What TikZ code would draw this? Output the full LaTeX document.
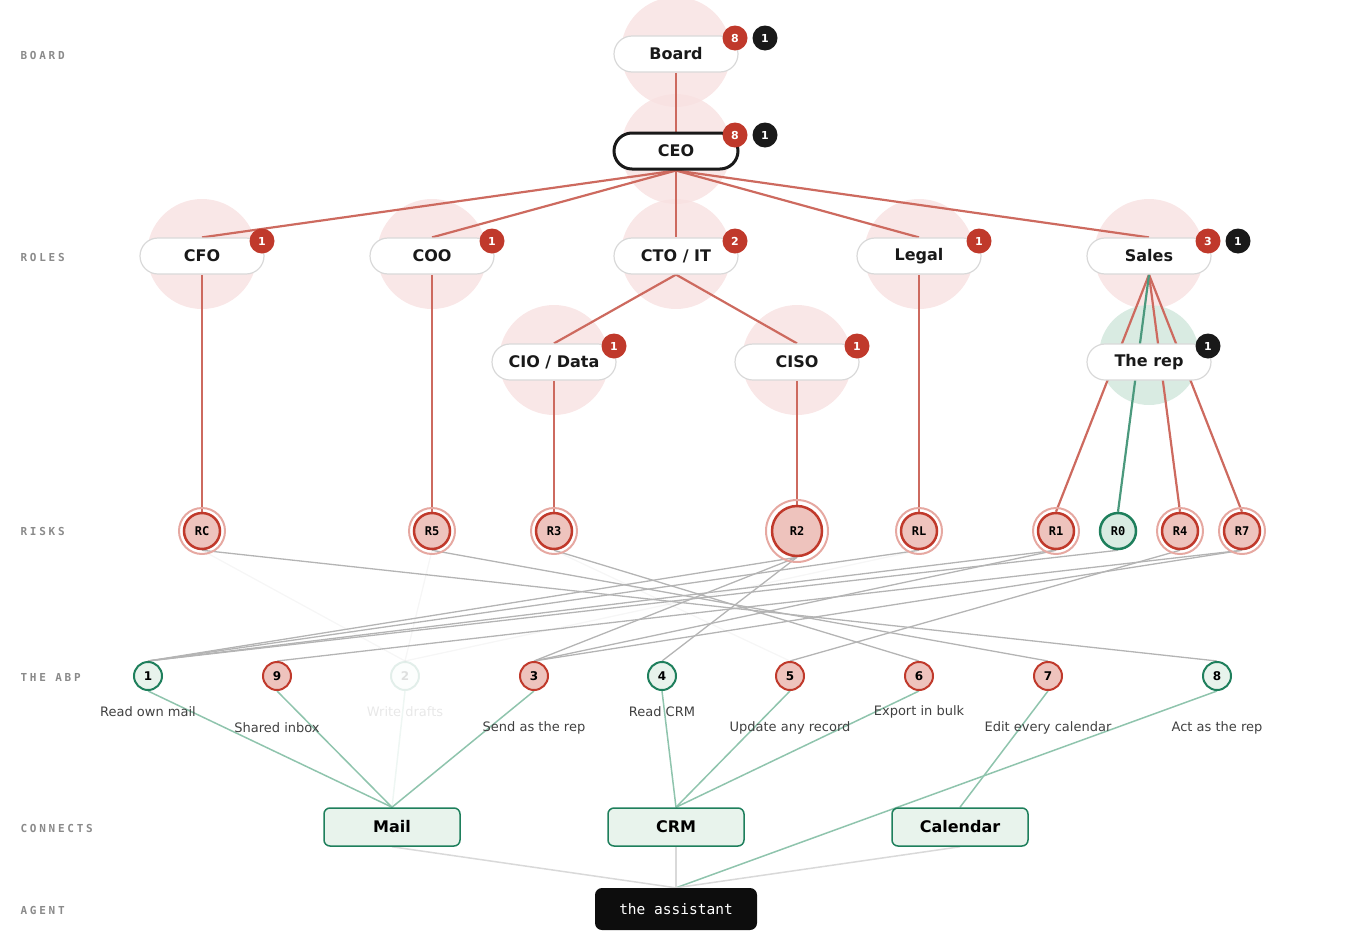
\documentclass[tikz,border=0pt]{standalone}
\usepackage{fontspec}
\setmainfont{DejaVu Sans}
\setmonofont{DejaVu Sans Mono}
\definecolor{redline}{HTML}{CD6A5F}
\definecolor{redbadge}{HTML}{C0392B}
\definecolor{halo}{HTML}{F8E1E1}
\definecolor{riskfill}{HTML}{EEC3BD}
\definecolor{riskring}{HTML}{E6A8A1}
\definecolor{grn}{HTML}{1E7F5C}
\definecolor{grnfill}{HTML}{E8F3EC}
\definecolor{grnline}{HTML}{8FC4AD}
\definecolor{grnhalo}{HTML}{D9EBE2}
\definecolor{grayline}{HTML}{B4B4B4}
\definecolor{rowlabel}{HTML}{8A8A8A}
\pgfdeclarelayer{halos}
\pgfdeclarelayer{edges}
\pgfsetlayers{halos,edges,main}
\tikzset{
  pill/.style={draw=black!15,line width=1.2pt,fill=white,rounded corners=18pt,minimum width=124pt,minimum height=36pt,font=\fontsize{16}{16}\selectfont\bfseries,text=black!90},
  badge/.style={circle,fill=redbadge,text=white,inner sep=0pt,minimum size=25pt,font=\fontsize{11}{11}\selectfont\bfseries},
  bbadge/.style={badge,fill=black!90},
  risk/.style={circle,draw=redbadge,line width=2pt,fill=riskfill,inner sep=0pt,minimum size=36pt,double=white,font=\ttfamily\fontsize{12}{12}\selectfont\bfseries},
  ring/.style={circle,draw=riskring,line width=2pt,fill=none},
  abp/.style={circle,draw=redbadge,line width=2pt,fill=riskfill,inner sep=0pt,minimum size=28pt,font=\fontsize{12}{12}\selectfont\bfseries},
  abpok/.style={abp,draw=grn,fill=grnfill},
  tag/.style={font=\fontsize{13}{13}\selectfont,text=black!75},
  conn/.style={draw=grn,line width=1.5pt,fill=grnfill,rounded corners=6pt,minimum width=136pt,minimum height=38pt,font=\fontsize{16}{16}\selectfont\bfseries},
  row/.style={anchor=west,text=rowlabel,font=\ttfamily\fontsize{11}{11}\selectfont\bfseries\addfontfeature{LetterSpace=25}},
  redge/.style={draw=redline,line width=2.2pt},
  gedge/.style={draw=grayline,line width=1.3pt},
  cedge/.style={draw=grnline,line width=1.5pt},
}
\begin{document}
\begin{tikzpicture}[x=1pt,y=-1pt]
\useasboundingbox (0,0) rectangle (1353,948);
% row labels
\node[row] (lBoard) at (17,55) {BOARD};
\node[row] (lRoles) at (17,257) {ROLES};
\node[row] (lRisks) at (17,531) {RISKS};
\node[row] (lAbp) at (17,677) {THE ABP};
\node[row] (lConn) at (17,828) {CONNECTS};
\node[row] (lAgent) at (17,910) {AGENT};
% roles
\node[pill] (board) at (676,54) {Board};
\node[pill,draw=black!90,line width=3pt] (ceo) at (676,151) {CEO};
\node[pill] (cfo) at (202,256) {CFO};
\node[pill] (coo) at (432,256) {COO};
\node[pill] (cto) at (676,256) {CTO / IT};
\node[pill] (legal) at (919,256) {Legal};
\node[pill] (sales) at (1149,256) {Sales};
\node[pill] (cio) at (554,362) {CIO / Data};
\node[pill] (ciso) at (797,362) {CISO};
\node[pill] (rep) at (1149,362) {The rep};
\begin{pgfonlayer}{halos}
\foreach \h in {board,ceo,cfo,coo,cto,legal,sales,cio,ciso}
  \fill[halo,opacity=.8] ([yshift=2pt]\h.center) circle (55pt);
\fill[grnhalo] ([yshift=7pt]rep.center) circle (50pt);
\end{pgfonlayer}
% badges
\node[badge] (bBoard) at (735,38) {8};
\node[bbadge] (kBoard) at (765,38) {1};
\node[badge] (bCeo) at (735,135) {8};
\node[bbadge] (kCeo) at (765,135) {1};
\node[badge] (bCfo) at (262,241) {1};
\node[badge] (bCoo) at (492,241) {1};
\node[badge] (bCto) at (735,241) {2};
\node[badge] (bLegal) at (979,241) {1};
\node[badge] (bSales) at (1208,241) {3};
\node[bbadge] (kSales) at (1238,241) {1};
\node[badge] (bCio) at (614,346) {1};
\node[badge] (bCiso) at (857,346) {1};
\node[bbadge] (kRep) at (1208,346) {1};
% risks
\foreach \n/\x in {RC/202,R5/432,R3/554,RL/919,R1/1056,R4/1180,R7/1242}{
  \node[ring,minimum size=46pt] at (\x,531) {};
  \node[risk,double=none,line width=2.5pt] (\n) at (\x,531) {\n};
}
\node[ring,minimum size=62pt] at (797,531) {};
\node[risk,double=none,line width=2.5pt,minimum size=50pt] (R2) at (797,531) {R2};
\node[risk,double=none,line width=2.5pt,draw=grn,fill=grnhalo,minimum size=36pt] (R0) at (1118,531) {R0};
% the abp
\node[abpok] (a1) at (148,676) {1};
\node[abp] (a9) at (277,676) {9};
\node[abpok,opacity=.12] (a2) at (405,676) {2};
\node[abp] (a3) at (534,676) {3};
\node[abpok] (a4) at (662,676) {4};
\node[abp] (a5) at (790,676) {5};
\node[abp] (a6) at (919,676) {6};
\node[abp] (a7) at (1048,676) {7};
\node[abpok] (a8) at (1217,676) {8};
\node[tag] (t1) at (148,712) {Read own mail};
\node[tag] (t9) at (277,728) {Shared inbox};
\node[tag,opacity=.12] (t2) at (405,712) {Write drafts};
\node[tag] (t3) at (534,728) {Send as the rep};
\node[tag] (t4) at (662,712) {Read CRM};
\node[tag] (t5) at (790,728) {Update any record};
\node[tag] (t6) at (919,712) {Export in bulk};
\node[tag] (t7) at (1048,728) {Edit every calendar};
\node[tag] (t8) at (1217,728) {Act as the rep};
% connects and agent
\node[conn] (mail) at (392,827) {Mail};
\node[conn] (crm) at (676,827) {CRM};
\node[conn] (cal) at (960,827) {Calendar};
\node[fill=black!95,rounded corners=7pt,minimum width=162pt,minimum height=42pt,text=white,font=\ttfamily\fontsize{14.5}{14.5}\selectfont] (agent) at (676,909) {the assistant};
\begin{pgfonlayer}{edges}
\draw[redge] (board) -- (ceo);
\foreach \c in {cfo,coo,cto,legal,sales}
  \draw[redge] (ceo.south) -- (\c.north);
\draw[redge] (cto.south) -- (cio.north);
\draw[redge] (cto.south) -- (ciso.north);
\draw[redge] (cfo) -- (RC);
\draw[redge] (coo) -- (R5);
\draw[redge] (cio) -- (R3);
\draw[redge] (ciso) -- (R2);
\draw[redge] (legal) -- (RL);
\foreach \r in {R1,R4,R7}
  \draw[redge] (sales.south) -- (\r.north);
\draw[draw=grn!80,line width=2.2pt] (sales.south) -- (R0.north);
% risks to the abp
\foreach \r/\a in {RC/a8,R5/a7,R3/a6,R2/a1,R2/a3,R2/a4,RL/a1,R1/a1,R1/a3,R0/a1,R4/a5,R7/a3,R7/a9}
  \draw[gedge] (\r.south) -- (\a.north);
\foreach \r/\a in {RC/a2,R5/a2,R3/a5,RL/a2}
  \draw[gedge,opacity=.12] (\r.south) -- (\a.north);
% the abp to connects
\foreach \a/\c in {a1/mail,a9/mail,a3/mail,a4/crm,a5/crm,a6/crm,a7/cal,a8/agent}
  \draw[cedge] (\a.south) -- (\c.north);
\draw[cedge,opacity=.15] (a2.south) -- (mail.north);
\foreach \c in {mail,crm,cal}
  \draw[draw=black!15,line width=1.5pt] (\c.south) -- (agent.north);
\end{pgfonlayer}
\end{tikzpicture}
\end{document}
